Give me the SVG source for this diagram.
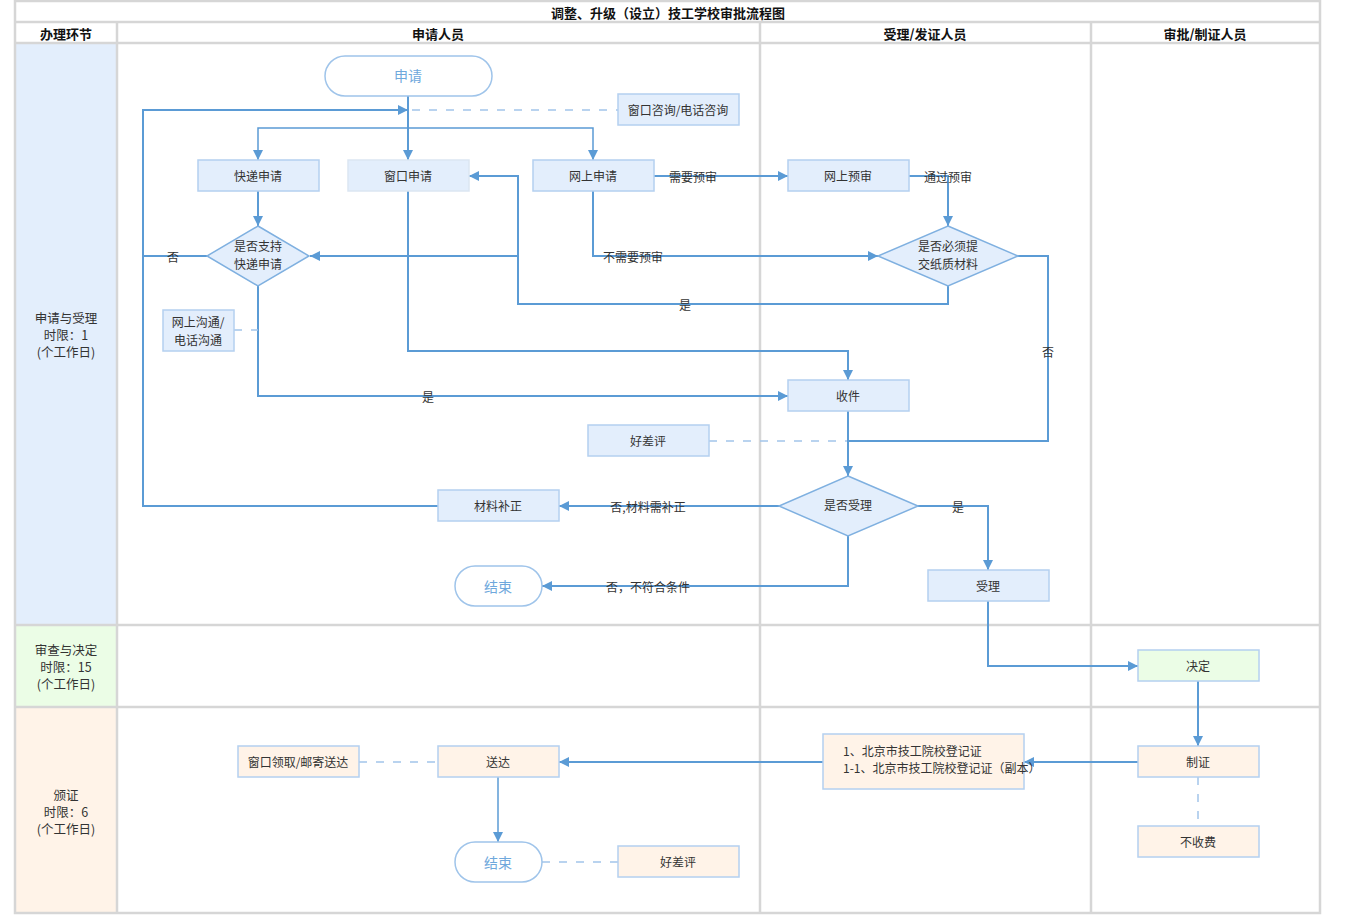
<svg xmlns="http://www.w3.org/2000/svg" width="1350" height="915" viewBox="0 0 1350 915">
<defs>
<marker id="arr" markerUnits="userSpaceOnUse" markerWidth="10" markerHeight="10" refX="10" refY="5" orient="auto">
<path d="M0,0 L10,5 L0,10 z" fill="#5b9bd5"/>
</marker>
<style>
text{font-family:"Noto Sans CJK SC","Noto Sans",sans-serif;font-size:12px;fill:#333;text-anchor:middle;dominant-baseline:central}
.hd{font-weight:bold;font-size:13px;fill:#111}
.ll{font-size:12.5px}
.grid{stroke:#d6d6d6;stroke-width:2.5;fill:none}
.b{fill:#e3eefc;stroke:#b4d0f0;stroke-width:1.5}
.g{fill:#ebfde6;stroke:#b4d0f0;stroke-width:1.5}
.o{fill:#fff3e8;stroke:#b4d0f0;stroke-width:1.5}
.pill{fill:#fff;stroke:#9fc4ea;stroke-width:1.5}
.pt{fill:#6fa8dc;font-size:14px}
.c{stroke:#5b9bd5;stroke-width:2;fill:none}
.c1{stroke:#5b9bd5;stroke-width:1.5;fill:none}
.d{stroke:#a3c5ea;stroke-width:1.5;fill:none;stroke-dasharray:8,9}
</style>
</defs>
<rect x="0" y="0" width="1350" height="915" fill="#fff"/>
<g id="lanes">
<rect x="15" y="43" width="102" height="582" fill="#e3eefc"/>
<rect x="15" y="625" width="102" height="82" fill="#ebfde6"/>
<rect x="15" y="707" width="102" height="206" fill="#fff3e8"/>
</g>
<g id="grid">
<rect class="grid" x="15" y="1" width="1305" height="912"/>
<line class="grid" x1="15" y1="22" x2="1320" y2="22"/>
<line class="grid" x1="15" y1="43" x2="1320" y2="43"/>
<line class="grid" x1="15" y1="625" x2="1320" y2="625"/>
<line class="grid" x1="15" y1="707" x2="1320" y2="707"/>
<line class="grid" x1="117" y1="22" x2="117" y2="913"/>
<line class="grid" x1="760" y1="22" x2="760" y2="913"/>
<line class="grid" x1="1091" y1="22" x2="1091" y2="913"/>
</g>
<g id="headers">
<text class="hd" x="668" y="12">调整、升级（设立）技工学校审批流程图</text>
<text class="hd" x="66" y="33">办理环节</text>
<text class="hd" x="438" y="33">申请人员</text>
<text class="hd" x="925" y="33">受理/发证人员</text>
<text class="hd" x="1205" y="33">审批/制证人员</text>
</g>
<g id="lane-labels">
<text class="ll" x="66" y="317">申请与受理</text>
<text class="ll" x="66" y="334">时限：1</text>
<text class="ll" x="66" y="351">(个工作日)</text>
<text class="ll" x="66" y="649">审查与决定</text>
<text class="ll" x="66" y="666">时限：15</text>
<text class="ll" x="66" y="683">(个工作日)</text>
<text class="ll" x="66" y="794">颁证</text>
<text class="ll" x="66" y="811">时限：6</text>
<text class="ll" x="66" y="828">(个工作日)</text>
</g>
<g id="connectors">
<path class="c" d="M408,96 V160" marker-end="url(#arr)"/>
<path class="c" d="M207,256 H143 V110 H408" marker-end="url(#arr)"/>
<path class="c" d="M438,506 H143 V256"/>
<path class="d" d="M412,110 H618"/>
<path class="c1" d="M408,128 H258 V160" marker-end="url(#arr)"/>
<path class="c1" d="M408,128 H593 V160" marker-end="url(#arr)"/>
<path class="c" d="M258,191 V226" marker-end="url(#arr)"/>
<path class="c" d="M258,286 V396 H788" marker-end="url(#arr)"/>
<path class="d" d="M234,330 H258"/>
<path class="c" d="M408,191 V351 H848 V380" marker-end="url(#arr)"/>
<path class="c" d="M654,176 H788" marker-end="url(#arr)"/>
<path class="c" d="M909,176 H948 V226" marker-end="url(#arr)"/>
<path class="c" d="M593,191 V256 H878" marker-end="url(#arr)"/>
<path class="c" d="M948,286 V304 H518 V176 H469" marker-end="url(#arr)"/>
<path class="c" d="M518,256 H310" marker-end="url(#arr)"/>
<path class="c" d="M1018,256 H1048 V441 H848"/>
<path class="d" d="M709,441 H848"/>
<path class="c" d="M848,411 V476" marker-end="url(#arr)"/>
<path class="c" d="M779,506 H559" marker-end="url(#arr)"/>
<path class="c" d="M918,506 H988 V570" marker-end="url(#arr)"/>
<path class="c" d="M848,536 V586 H542" marker-end="url(#arr)"/>
<path class="c" d="M988,601 V666 H1138" marker-end="url(#arr)"/>
<path class="c" d="M1198,681 V746" marker-end="url(#arr)"/>
<path class="c" d="M1138,762 H1024" marker-end="url(#arr)"/>
<path class="c" d="M823,762 H559" marker-end="url(#arr)"/>
<path class="d" d="M359,762 H438"/>
<path class="c1" d="M498,777 V842" marker-end="url(#arr)"/>
<path class="d" d="M542,862 H618"/>
<path class="d" d="M1198,777 V826"/>
</g>
<g id="connector-labels">
<text x="173" y="256">否</text>
<text x="428" y="396">是</text>
<text x="693" y="176">需要预审</text>
<text x="948" y="176">通过预审</text>
<text x="633" y="256">不需要预审</text>
<text x="685" y="304">是</text>
<text x="1048" y="351">否</text>
<text x="648" y="506">否,材料需补正</text>
<text x="958" y="506">是</text>
<text x="648" y="586">否，不符合条件</text>
</g>
<g id="n-start"><rect class="pill" x="325" y="56" width="167" height="40" rx="20"/><text class="pt" x="408" y="75">申请</text></g>
<g id="n-consult"><rect class="b" x="618" y="94" width="121" height="31"/><text x="678" y="109">窗口咨询/电话咨询</text></g>
<g id="n-express"><rect class="b" x="198" y="160" width="121" height="31"/><text x="258" y="175">快递申请</text></g>
<g id="n-window"><rect class="b" x="348" y="160" width="121" height="31" style="stroke:#dbe6f2"/><text x="408" y="175">窗口申请</text></g>
<g id="n-online"><rect class="b" x="533" y="160" width="121" height="31"/><text x="593" y="175">网上申请</text></g>
<g id="n-precheck"><rect class="b" x="788" y="160" width="121" height="31"/><text x="848" y="175">网上预审</text></g>
<g id="n-d1"><polygon class="b" points="258,226 309,256 258,286 207,256" style="stroke:#7fb0e0"/><text x="258" y="245">是否支持</text><text x="258" y="263">快递申请</text></g>
<g id="n-d2"><polygon class="b" points="948,226 1018,256 948,286 878,256" style="stroke:#7fb0e0"/><text x="948" y="245">是否必须提</text><text x="948" y="263">交纸质材料</text></g>
<g id="n-comm"><rect class="b" x="163" y="310" width="71" height="41"/><text x="198" y="321">网上沟通/</text><text x="198" y="339">电话沟通</text></g>
<g id="n-receive"><rect class="b" x="788" y="380" width="121" height="31"/><text x="848" y="395">收件</text></g>
<g id="n-eval1"><rect class="b" x="588" y="425" width="121" height="31"/><text x="648" y="440">好差评</text></g>
<g id="n-d3"><polygon class="b" points="848,476 918,506 848,536 779,506" style="stroke:#7fb0e0"/><text x="848" y="504">是否受理</text></g>
<g id="n-supplement"><rect class="b" x="438" y="490" width="121" height="31"/><text x="498" y="505">材料补正</text></g>
<g id="n-end1"><rect class="pill" x="455" y="566" width="87" height="40" rx="20"/><text class="pt" x="498" y="586">结束</text></g>
<g id="n-accept"><rect class="b" x="928" y="570" width="121" height="31"/><text x="988" y="585">受理</text></g>
<g id="n-decide"><rect class="g" x="1138" y="650" width="121" height="31"/><text x="1198" y="665">决定</text></g>
<g id="n-make"><rect class="o" x="1138" y="746" width="121" height="31"/><text x="1198" y="761">制证</text></g>
<g id="n-nofee"><rect class="o" x="1138" y="826" width="121" height="31"/><text x="1198" y="841">不收费</text></g>
<g id="n-cert"><rect class="o" x="823" y="734" width="201" height="55"/><text x="843" y="750" style="text-anchor:start">1、北京市技工院校登记证</text><text x="843" y="767" style="text-anchor:start">1-1、北京市技工院校登记证（副本）</text></g>
<g id="n-deliver"><rect class="o" x="438" y="746" width="121" height="31"/><text x="498" y="761">送达</text></g>
<g id="n-pickup"><rect class="o" x="238" y="746" width="121" height="31"/><text x="298" y="761">窗口领取/邮寄送达</text></g>
<g id="n-end2"><rect class="pill" x="455" y="842" width="87" height="40" rx="20"/><text class="pt" x="498" y="862">结束</text></g>
<g id="n-eval2"><rect class="o" x="618" y="846" width="121" height="31"/><text x="678" y="861">好差评</text></g>
</svg>
